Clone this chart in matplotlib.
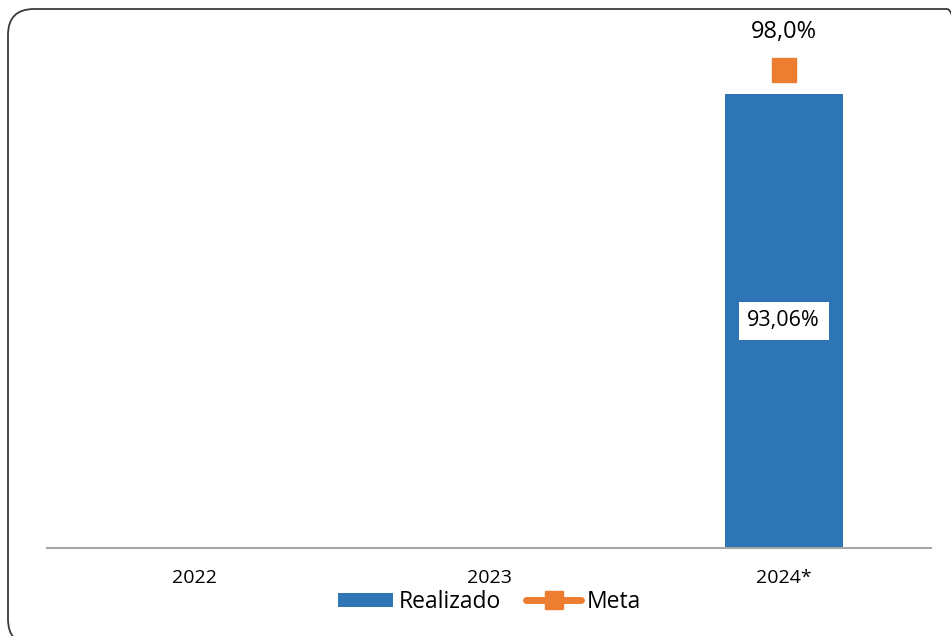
import matplotlib
matplotlib.use("Agg")
import matplotlib.pyplot as plt
from matplotlib.patches import FancyBboxPatch, Patch
from matplotlib.lines import Line2D
import numpy as np

categories = ["2022", "2023", "2024*"]
realizado = [np.nan, np.nan, 93.06]
meta = [np.nan, np.nan, 98.0]
realizado_labels = ["", "", "93,06%"]
meta_labels = ["", "", "98,0%"]

BLUE = "#2E75B6"
ORANGE = "#ED7D31"
FONT = "Open Sans"

W, H = 951, 636
fig = plt.figure(figsize=(W / 100, H / 100), dpi=100)

# rounded outer border (pixel coords)
border = FancyBboxPatch((8, H - 645), 965, 636,
                        boxstyle="round,pad=0,rounding_size=26",
                        transform=None, fill=False, edgecolor="#3a3a3a",
                        linewidth=1.3)
fig.patches.append(border)

ax = fig.add_axes([47 / W, 1 - 548 / H, 884 / W, (548 - 11.3) / H])
x = np.arange(len(categories))
ax.bar(x, realizado, width=0.4, color=BLUE, zorder=2)
ax.plot(x, meta, marker="s", markersize=17, color=ORANGE, linestyle="-",
        linewidth=4, zorder=3, clip_on=False)

ax.set_xlim(-0.5, len(categories) - 0.5)
ax.set_ylim(0, 110)

for xi, v, lab in zip(x, realizado, realizado_labels):
    if lab:
        ax.text(xi, v / 2, lab, ha="center", va="center", fontsize=15.5,
                family=FONT, color="black", zorder=4,
                bbox=dict(boxstyle="square,pad=0.4", facecolor="white",
                          edgecolor="none"))
for xi, v, lab in zip(x, meta, meta_labels):
    if lab:
        ax.annotate(lab, (xi, v), xytext=(0, 27), textcoords="offset points",
                    ha="center", va="center", fontsize=17, family=FONT,
                    color="black", annotation_clip=False)

for s in ["top", "right", "left"]:
    ax.spines[s].set_visible(False)
ax.spines["bottom"].set_color("#A6A6A6")
ax.spines["bottom"].set_linewidth(1.5)
ax.set_yticks([])
ax.set_xticks(x)
ax.set_xticklabels(categories, fontsize=14, family=FONT)
ax.tick_params(axis="x", length=0, pad=15)

handles = [Patch(facecolor=BLUE, edgecolor="none"),
           Line2D([0], [0], color=ORANGE, linewidth=5, marker="s",
                  markersize=12.5, solid_capstyle="round")]
leg = fig.legend(handles, ["Realizado", "Meta"], loc="center",
                 bbox_to_anchor=(489.5 / W, 1 - 602 / H), ncol=2, frameon=False,
                 prop={"family": FONT, "size": 16.5}, handlelength=2.4,
                 handleheight=0.62, handletextpad=0.25, columnspacing=1.1,
                 borderpad=0)

fig.savefig("out.png", dpi=100)
